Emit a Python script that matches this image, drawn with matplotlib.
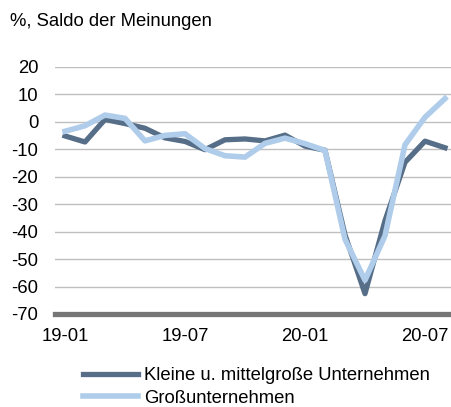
import numpy as np
import matplotlib
matplotlib.use("Agg")
import matplotlib.pyplot as plt

plt.rcParams['font.family'] = ['Liberation Sans', 'DejaVu Sans']
plt.rcParams['axes.unicode_minus'] = False

# monthly, 19-01 .. 20-08
months = ['19-01', '19-02', '19-03', '19-04', '19-05', '19-06', '19-07', '19-08',
          '19-09', '19-10', '19-11', '19-12', '20-01', '20-02', '20-03', '20-04',
          '20-05', '20-06', '20-07', '20-08']
kmu = [-5.2, -7.4, 0.8, -0.7, -2.4, -5.9, -7.2, -10.2, -6.6, -6.3,
       -7.0, -4.9, -8.9, -10.4, -41.2, -62.6, -36.0, -14.8, -7.1, -9.5]
gross = [-3.5, -1.5, 2.4, 1.2, -7.0, -5.0, -4.4, -9.8, -12.4, -12.9,
         -7.9, -6.0, -8.0, -10.5, -42.8, -57.7, -41.5, -8.4, 1.6, 8.4]
tick_labels = ['19-01', '19-07', '20-01', '20-07']
series_names = ['Kleine u. mittelgroße Unternehmen', 'Großunternehmen']

dark = '#566e87'
light = '#afcdea'
fs = 13.3

fig = plt.figure(figsize=(4.51, 4.07), dpi=100)
ax = fig.add_axes([55 / 451, 1 - 314 / 407, 1 - 55 / 451, (314 - 66.7) / 407])

x = np.arange(len(months))
ax.plot(x, kmu, color=dark, lw=3.8, solid_joinstyle='round', label=series_names[0], zorder=3)
ax.plot(x, gross, color=light, lw=4.0, solid_joinstyle='round', label=series_names[1], zorder=4)

ax.set_ylim(-70, 20)
ax.set_xlim(-0.5, 19.3)
ax.set_yticks(np.arange(-70, 21, 10))
for v in range(-60, 21, 10):
    ax.axhline(v, color='#bfbfbf', lw=1.0, zorder=1)
ax.axhline(-70, color='#767676', lw=3.8, zorder=5, clip_on=False)

xt = [months.index(m) for m in tick_labels]
ax.set_xticks(xt)
ax.set_xticklabels(tick_labels)
for s in ax.spines.values():
    s.set_visible(False)
ax.tick_params(axis='both', length=0, labelsize=fs, colors='black')
ax.tick_params(axis='y', pad=12)
ax.tick_params(axis='x', pad=10)

fig.text(10 / 451, 1 - 22 / 407, '%, Saldo der Meinungen', fontsize=fs, va='center', ha='left')

fig.legend(loc='upper left', bbox_to_anchor=(83 / 451, 1 - 367 / 407), frameon=False,
           fontsize=fs, handlelength=3.0, handletextpad=0.3, borderpad=0,
           borderaxespad=0, labelspacing=0.32)

fig.savefig('out.png', dpi=100)
